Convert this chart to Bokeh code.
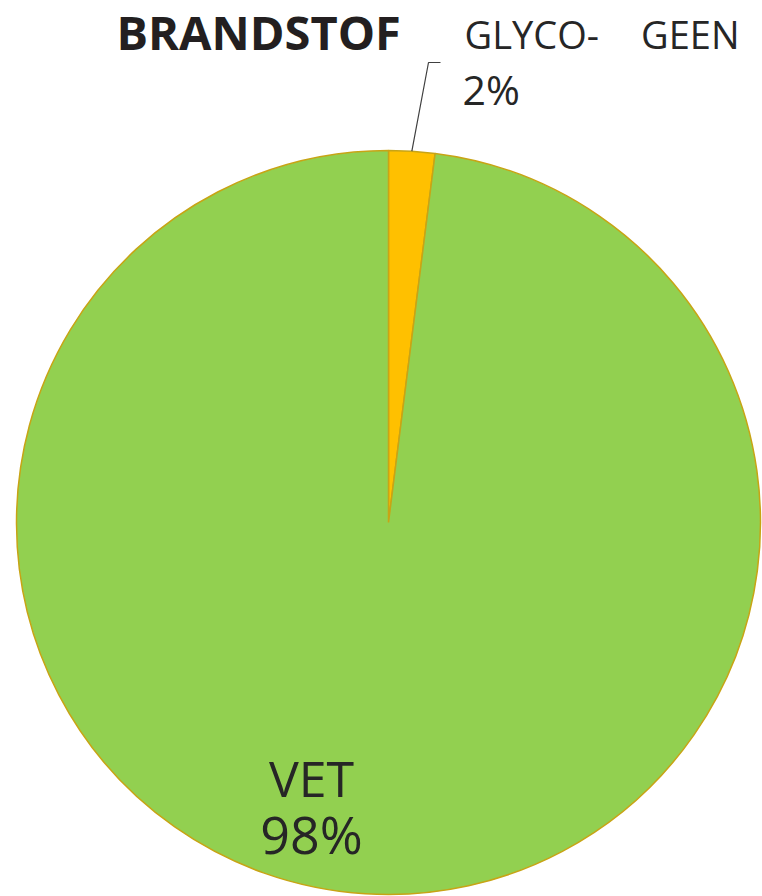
import math
from bokeh.plotting import figure
from bokeh.models import Range1d
from bokeh.core.properties import value
from bokeh.embed import file_html
from bokeh.resources import INLINE

# data
categories = ["GLYCO-   GEEN", "VET"]
values = [2, 98]
colors = ["#FFC000", "#92D050"]
title_text = "BRANDSTOF"

W, H = 762, 896
p = figure(width=W, height=H, output_backend="svg", toolbar_location=None,
           x_range=Range1d(0, W), y_range=Range1d(0, H), min_border=0)
p.axis.visible = False
p.grid.visible = False
p.outline_line_color = None

def sx(x):
    return x
def sy(y):
    return H - y

cx, cy, r = sx(388), sy(522), 372
total = sum(values)
start = math.pi / 2
starts, ends = [], []
for v in values:
    a = 2 * math.pi * v / total
    ends.append(start)
    starts.append(start - a)
    start -= a

p.wedge(x=[cx] * len(values), y=[cy] * len(values), radius=r,
        start_angle=starts, end_angle=ends, fill_color=colors,
        line_color="#C8A415", line_width=1.5)

font = value("Open Sans")
# title
p.text(x=[sx(116)], y=[sy(31)], text=[title_text], text_font=font,
       text_font_size="47px", text_font_style="bold", text_color="#231F20",
       text_baseline="alphabetic", text_align="left")

# glycogeen label
g1, g2 = categories[0].split("   ")
p.text(x=[sx(464)], y=[sy(33)], text=[g1], text_font=font, text_font_size="38px",
       text_color="#262626", text_baseline="middle", text_align="left")
p.text(x=[sx(739)], y=[sy(33)], text=[g2], text_font=font, text_font_size="38px",
       text_color="#262626", text_baseline="middle", text_align="right")
p.text(x=[sx(462)], y=[sy(88)], text=[f"{values[0]}%"], text_font=font, text_font_size="41px",
       text_color="#262626", text_baseline="middle", text_align="left")

# leader line
mid = (starts[0] + ends[0]) / 2
lx0 = cx + r * math.cos(mid)
ly0 = cy + r * math.sin(mid)
p.line(x=[lx0, sx(428), sx(440)], y=[ly0, sy(62), sy(62)], line_color="#404040", line_width=1.2)

# vet label
p.text(x=[sx(311)], y=[sy(777)], text=[categories[1]], text_font=font, text_font_size="50px",
       text_color="#262626", text_baseline="middle", text_align="center")
p.text(x=[sx(311)], y=[sy(833)], text=[f"{values[1]}%"], text_font=font, text_font_size="52px",
       text_color="#262626", text_baseline="middle", text_align="center")

open("out.html", "w").write(file_html(p, INLINE))
